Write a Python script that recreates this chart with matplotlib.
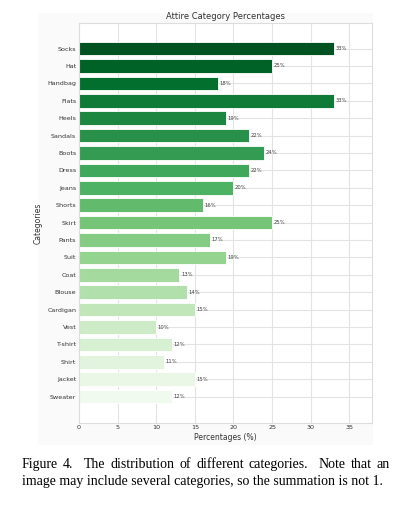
import numpy as np
import matplotlib.pyplot as plt
import seaborn as sns
from matplotlib.patches import Rectangle

categories = ["Socks", "Hat", "Handbag", "Flats", "Heels", "Sandals", "Boots", "Dress",
              "Jeans", "Shorts", "Skirt", "Pants", "Suit", "Coat", "Blouse", "Cardigan",
              "Vest", "T-shirt", "Shirt", "Jacket", "Sweater"]
percentages = [33, 25, 18, 33, 19, 22, 24, 22, 20, 16, 25, 17, 19, 13, 14, 15, 10, 12, 11, 15, 12]

caption_1 = "Figure 4.  The distribution of different categories.  Note that an"
caption_2 = "image may include several categories, so the summation is not 1."

sns.set_style("whitegrid")
plt.rcParams['font.family'] = ['DejaVu Sans']

fig = plt.figure(figsize=(3.95, 5.12), dpi=100)

# faint panel behind the embedded chart
fig.patches.append(Rectangle((38 / 395, 1 - 445 / 512), (373 - 38) / 395, (445 - 13) / 512,
                             transform=fig.transFigure, facecolor="#fafafa",
                             edgecolor="none", zorder=-1))

ax = fig.add_axes([0.2, 0.1744, 0.742, 0.78])

colors = sns.color_palette("Greens_r", len(categories))
y = np.arange(len(categories))
bars = ax.barh(y, percentages, height=0.78, color=colors, edgecolor="white",
               linewidth=0.6, zorder=2)

for bar, p in zip(bars, percentages):
    ax.text(bar.get_width() + 0.2, bar.get_y() + bar.get_height() / 2, f"{p}%",
            va="center", ha="left", fontsize=3.8, color="#444444", zorder=3)

ax.set_yticks(y)
ax.set_yticklabels(categories)
ax.set_ylim(len(categories) + 0.5, -1.45)
ax.set_xlim(0, max(percentages) * 1.15)
ax.set_xticks(range(0, 36, 5))

ax.tick_params(axis="both", labelsize=4.6, colors="#333333", pad=2, length=0)
for s in ax.spines.values():
    s.set_color("#dddddd")
    s.set_linewidth(0.8)
ax.grid(True, color="#e3e3e3", linewidth=0.8, zorder=0)
ax.set_axisbelow(True)

ax.set_title("Attire Category Percentages", fontsize=6, color="#333333", pad=3)
ax.set_xlabel("Percentages (%)", fontsize=5.5, color="#333333", labelpad=2)
ax.set_ylabel("Categories", fontsize=5.5, color="#333333", labelpad=3)

# caption: first line justified between x0 and x1 (wider gaps after periods)
x0, x1 = 22 / 395, 390 / 395
cap_kw = dict(fontsize=10, family="Liberation Serif", color="black", va="center")
renderer = fig.canvas.get_renderer()
words = caption_1.split()
texts = [fig.text(x0, 0.092, w, **cap_kw) for w in words]
widths = [t.get_window_extent(renderer).width / fig.bbox.width for t in texts]
weights = [2.0 if w.endswith(".") else 1.0 for w in words[:-1]]
unit = (x1 - x0 - sum(widths)) / sum(weights)
xpos = x0
for i, (t, w) in enumerate(zip(texts, widths)):
    t.set_x(xpos)
    if i < len(weights):
        xpos += w + unit * weights[i]
fig.text(x0, 0.0586, caption_2, **cap_kw)

fig.savefig("out.png", dpi=100)
